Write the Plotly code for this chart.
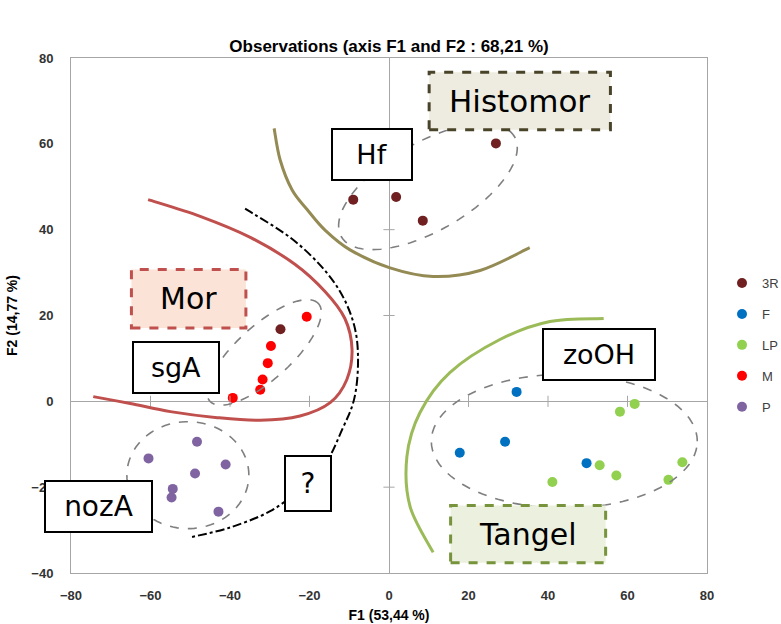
import math
import plotly.graph_objects as go

# ---------------- data ----------------
SERIES = ["3R", "F", "LP", "M", "P"]
COLORS = ["#702020", "#0070C0", "#92D050", "#FF0000", "#8064A2"]

X_3R = [26.9, -9.0, 1.8, 8.5, -27.3]
Y_3R = [60.1, 47.0, 47.6, 42.1, 16.8]
X_F = [32.1, 29.2, 17.8, 49.7]
Y_F = [2.2, -9.4, -12.0, -14.4]
X_LP = [61.8, 58.1, 53.0, 57.2, 41.1, 73.8, 70.3]
Y_LP = [-0.6, -2.4, -14.9, -17.3, -18.8, -14.2, -18.3]
X_M = [-20.7, -29.7, -30.5, -31.8, -32.4, -39.3]
Y_M = [19.7, 12.9, 8.9, 5.1, 2.7, 0.8]
X_P = [-48.3, -60.5, -41.1, -48.8, -54.4, -54.7, -42.9]
Y_P = [-9.4, -13.3, -14.7, -16.8, -20.4, -22.4, -25.7]

XS = [X_3R, X_F, X_LP, X_M, X_P]
YS = [Y_3R, Y_F, Y_LP, Y_M, Y_P]

X_TICKS = [-80, -60, -40, -20, 0, 20, 40, 60, 80]
Y_TICKS = [-40, -20, 0, 20, 40, 60, 80]

TITLE = "Observations (axis F1 and F2 : 68,21 %)"
X_TITLE = "F1 (53,44 %)"
Y_TITLE = "F2 (14,77 %)"

# hand-drawn decorations (guide points in data units)
HISTOMOR_ARC_X = [-28.9, -27.4, -24.4, -20.6, -16.1, -9.8, 0.25, 11.1, 22.9, 35.4]
HISTOMOR_ARC_Y = [63.6, 56.3, 49.3, 44.7, 39.9, 35.3, 31.1, 29.1, 30.5, 35.8]
MOR_ARC_X = [-60.6, -47.5, -34.9, -23.6, -16.1, -11.1, -9.3, -10.6, -14.8, -22.4, -32.4, -43.2, -55.0, -65.1, -74.4]
MOR_ARC_Y = [47.0, 43.1, 38.2, 31.9, 25.6, 19.3, 12.1, 5.1, -0.3, -3.4, -4.4, -3.8, -2.4, -0.5, 1.1]
Q_ARC_X = [-36.2, -24.9, -16.8, -11.6, -8.5, -7.8, -8.8, -11.8, -16.1, -22.4, -29.9, -40.0, -50.0]
Q_ARC_Y = [44.9, 38.2, 31.2, 24.4, 16.7, 8.6, 0.4, -6.6, -14.7, -20.5, -25.6, -29.4, -31.7]
TANGEL_ARC_X = [54.0, 40.5, 27.9, 15.3, 7.8, 4.5, 5.3, 11.1]
TANGEL_ARC_Y = [19.3, 18.6, 14.4, 6.7, -2.6, -12.9, -24.5, -35.2]

# ellipses: centre (data), semi-axes (px), rotation (deg)
ELLIPSES = [
    (9.8, 50.0, 100, 44, 30),
    (-31.4, 11.4, 73, 27, 42),
    (-50.6, -17.2, 61, 53.5, 0),
    (44.1, -9.3, 133, 67, 0),
]

# ---------------- figure ----------------
W, H = 781, 624
ML, MR, MT, MB = 71, 74, 58, 51
PXX = (W - ML - MR) / 160.0
PXY = (H - MT - MB) / 120.0

fig = go.Figure()
for name, col, xs, ys in zip(SERIES, COLORS, XS, YS):
    fig.add_trace(go.Scatter(
        x=xs, y=ys, mode="markers", name=name, legendgroup=name,
        marker=dict(size=10, color=col), hoverinfo="x+y+name"))

# small cross ticks on the zero lines
tx = [v for v in X_TICKS if v not in (0, -80, 80)]
ty = [v for v in Y_TICKS if v not in (0, -40, 80)]
fig.add_trace(go.Scatter(x=tx, y=[0] * len(tx), mode="markers", showlegend=False,
                         hoverinfo="skip",
                         marker=dict(symbol="line-ns", size=8,
                                     line=dict(width=1, color="#A6A6A6"))))
fig.add_trace(go.Scatter(x=[0] * len(ty), y=ty, mode="markers", showlegend=False,
                         hoverinfo="skip",
                         marker=dict(symbol="line-ew", size=8,
                                     line=dict(width=1, color="#A6A6A6"))))


def ellipse_path(cx, cy, a, b, ang, n=90):
    th = math.radians(ang)
    pts = []
    for i in range(n):
        t = 2 * math.pi * i / n
        dx = a * math.cos(t) * math.cos(th) - b * math.sin(t) * math.sin(th)
        dy = a * math.cos(t) * math.sin(th) + b * math.sin(t) * math.cos(th)
        pts.append((cx + dx / PXX, cy + dy / PXY))
    return "M " + " L ".join(f"{x:.3f},{y:.3f}" for x, y in pts) + " Z"


def spline_path(xs, ys):
    p = list(zip(xs, ys))
    n = len(p)
    d = f"M {p[0][0]},{p[0][1]}"
    for i in range(n - 1):
        p0 = p[i - 1] if i > 0 else p[i]
        p1 = p[i]
        p2 = p[i + 1]
        p3 = p[i + 2] if i + 2 < n else p[i + 1]
        c1 = (p1[0] + (p2[0] - p0[0]) / 6, p1[1] + (p2[1] - p0[1]) / 6)
        c2 = (p2[0] - (p3[0] - p1[0]) / 6, p2[1] - (p3[1] - p1[1]) / 6)
        d += f" C {c1[0]:.3f},{c1[1]:.3f} {c2[0]:.3f},{c2[1]:.3f} {p2[0]},{p2[1]}"
    return d


shapes = []
for cx, cy, a, b, ang in ELLIPSES:
    shapes.append(dict(type="path", xref="x", yref="y", layer="above",
                       path=ellipse_path(cx, cy, a, b, ang),
                       line=dict(color="#7F7F7F", width=1.6, dash="dash")))

shapes.append(dict(type="path", xref="x", yref="y", layer="above",
                   path=spline_path(HISTOMOR_ARC_X, HISTOMOR_ARC_Y),
                   line=dict(color="#948A54", width=3)))
shapes.append(dict(type="path", xref="x", yref="y", layer="above",
                   path=spline_path(MOR_ARC_X, MOR_ARC_Y),
                   line=dict(color="#C0504D", width=3)))
shapes.append(dict(type="path", xref="x", yref="y", layer="above",
                   path=spline_path(Q_ARC_X, Q_ARC_Y),
                   line=dict(color="#000000", width=2, dash="dashdot")))
shapes.append(dict(type="path", xref="x", yref="y", layer="above",
                   path=spline_path(TANGEL_ARC_X, TANGEL_ARC_Y),
                   line=dict(color="#9BBB59", width=3)))

# dashed, filled label boxes
DASH_BOXES = [
    ("Histomor", 10.1, 55.7, 63.3, 76.7, "#EEECE1", "#494429", 31),
    ("Mor", -64.8, -36.0, 17.1, 30.7, "#FBE4D7", "#C0504D", 30),
    ("Tangel", 15.5, 54.5, -37.6, -24.3, "#EBF1DE", "#77933C", 30),
]
annotations = []
for text, x0, x1, y0, y1, fill, lc, fs in DASH_BOXES:
    shapes.append(dict(type="rect", xref="x", yref="y", layer="above",
                       x0=x0, x1=x1, y0=y0, y1=y1, fillcolor=fill,
                       line=dict(color=lc, width=3, dash="dash")))
    annotations.append(dict(x=(x0 + x1) / 2, y=(y0 + y1) / 2, xref="x", yref="y",
                            text=text, showarrow=False,
                            font=dict(family="DejaVu Sans", size=fs, color="#000000")))

# solid white label boxes (centre data, width px, height px, font)
SOLID_BOXES = [
    ("Hf", -4.40, 57.5, 82, 53, 27),
    ("sgA", -53.5, 7.8, 88, 53, 27),
    ("nozA", -72.96, -24.44, 109, 53, 28),
    ("?", -20.4, -19.1, 48, 57, 28),
    ("zoOH", 52.9, 10.9, 114, 53, 27),
]
for text, cx, cy, bw, bh, fs in SOLID_BOXES:
    annotations.append(dict(x=cx, y=cy, xref="x", yref="y", text=text,
                            showarrow=False, width=bw - 4, height=bh - 4,
                            bgcolor="#FFFFFF", bordercolor="#000000",
                            borderwidth=2, borderpad=0, align="center",
                            valign="middle",
                            font=dict(family="DejaVu Sans", size=fs, color="#000000")))

axis_common = dict(showgrid=False, zeroline=True, zerolinecolor="#A6A6A6",
                   zerolinewidth=1, showline=True, mirror=True,
                   linecolor="#A6A6A6", linewidth=1, ticks="",
                   tickfont=dict(family="Liberation Sans", size=13, color="#333333",
                                 weight="bold"))

fig.update_layout(
    width=W, height=H,
    margin=dict(l=ML, r=MR, t=MT, b=MB, autoexpand=False),
    paper_bgcolor="white", plot_bgcolor="white",
    title=dict(text=TITLE, x=0.5, xref="paper", y=1 - 46 / H, yref="container",
               xanchor="center", yanchor="middle",
               font=dict(family="Liberation Sans", size=17, color="#000000",
                         weight="bold")),
    xaxis=dict(range=[-80, 80], tickvals=X_TICKS, ticklabelstandoff=10,
               title=dict(text=X_TITLE, standoff=8,
                          font=dict(family="Liberation Sans", size=14,
                                    color="#000000", weight="bold")),
               **axis_common),
    yaxis=dict(range=[-40, 80], tickvals=Y_TICKS, ticklabelstandoff=14,
               title=dict(text=Y_TITLE, standoff=10,
                          font=dict(family="Liberation Sans", size=14,
                                    color="#000000", weight="bold")),
               **axis_common),
    legend=dict(x=1.0236, xanchor="left", y=0.592, yanchor="top",
                tracegroupgap=11, itemwidth=30,
                font=dict(family="Liberation Sans", size=13, color="#404040"),
                bgcolor="rgba(0,0,0,0)"),
    shapes=shapes,
    annotations=annotations,
    showlegend=True,
)

fig.write_html("out.html",
               config={"displayModeBar": False},
               post_script="document.body.style.margin='0';"
                           "document.body.style.overflow='hidden';")
